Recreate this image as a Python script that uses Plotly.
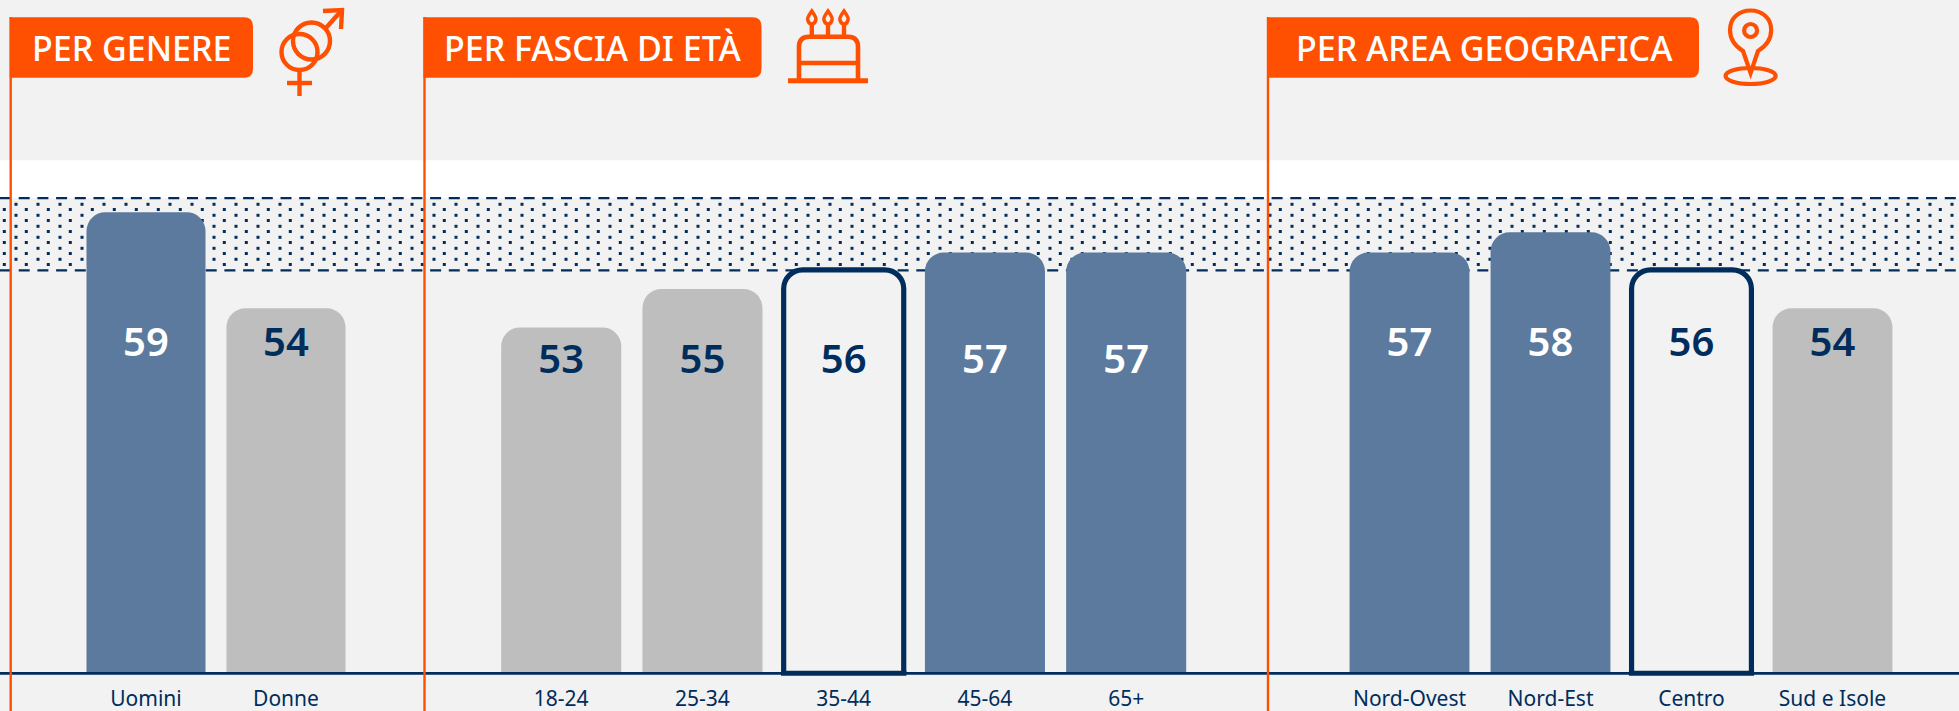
import plotly.graph_objects as go
import numpy as np

# ---- data ----
gender_cats = ["Uomini", "Donne"]
gender_vals = [59, 54]
age_cats = ["18-24", "25-34", "35-44", "45-64", "65+"]
age_vals = [53, 55, 56, 56.9, 56.9]
geo_cats = ["Nord-Ovest", "Nord-Est", "Centro", "Sud e Isole"]
geo_vals = [56.9, 57.95, 56, 54]
reference_value = 56
headers = ["PER GENERE", "PER FASCIA DI ETÀ", "PER AREA GEOGRAFICA"]

# ---- styles ----
BG = "#f2f2f2"
NAVY = "#002d5c"
BLUE = "#5b7a9e"
GRAY = "#bebebe"
ORANGE = "#ff4f00"
FONT = "Noto Sans"
W, H = 1959, 711
BASE = 35
BASE_PX = 673.3
YMAX = 70.05
BAND_TOP = 59.73
BAND_LOW = 55.97


def fill(v):
    return BLUE if v > reference_value else GRAY if v < reference_value else BG


def txt(v):
    return "white" if v > reference_value else NAVY


fig = go.Figure()

# dotted texture of the band, on a full-page pixel axis (drawn first = below bars)
col_a = np.arange(16, W, 22)
col_b = col_a + 10.3 - 22
row_a = 204.3 + 11 * np.arange(6)
row_b = 209.5 + 11 * np.arange(6)
dx = np.concatenate([np.repeat(col_a, 6), np.repeat(col_b, 6)])
dy = np.concatenate([np.tile(row_a, len(col_a)), np.tile(row_b, len(col_b))])
fig.add_trace(go.Scatter(x=dx, y=dy, mode="markers", xaxis="x", yaxis="y",
                         marker=dict(symbol="square", size=3, color=NAVY, line_width=0),
                         hoverinfo="skip", showlegend=False))

groups = [
    (gender_cats, gender_vals, "x2", [76 / W, 356 / W], 52.04),
    (age_cats, age_vals, "x3", [490.6 / W, 1196.8 / W], 51.15),
    (geo_cats, geo_vals, "x4", [1339 / W, 1903 / W], 52.04),
]
axes = {}
shapes = []
# white strip and dashed band limits
shapes.append(dict(type="rect", xref="paper", x0=0, x1=1, yref="y2", y0=BAND_TOP, y1=61.7,
                   fillcolor="white", line_width=0, layer="below"))
for yv in (BAND_TOP, BAND_LOW):
    shapes.append(dict(type="line", xref="paper", x0=0, x1=1, yref="y2", y0=yv, y1=yv, layer="below",
                       line=dict(color=NAVY, width=2.4, dash="11px,7.7px")))
# baseline
shapes.append(dict(type="line", xref="paper", x0=0, x1=1, yref="y", y0=BASE_PX, y1=BASE_PX,
                   line=dict(color=NAVY, width=2.8)))

for cats, vals, xa, dom, label_y in groups:
    fig.add_trace(go.Bar(
        x=cats, y=vals, xaxis=xa, yaxis="y2", width=0.85,
        marker=dict(color=[fill(v) for v in vals], cornerradius=19,
                    line=dict(color=[NAVY if v == reference_value else "rgba(0,0,0,0)" for v in vals],
                              width=[5.2 if v == reference_value else 0 for v in vals])),
        showlegend=False, hoverinfo="skip"))
    fig.add_trace(go.Scatter(
        x=cats, y=[label_y] * len(cats), text=[str(round(v)) for v in vals], mode="text",
        xaxis=xa, yaxis="y2", textposition="middle center",
        textfont=dict(family=FONT, size=40, weight=600, color=[txt(v) for v in vals]),
        showlegend=False, hoverinfo="skip"))
    axes[xa.replace("x", "xaxis")] = dict(
        domain=dom, anchor="y2", type="category", automargin=False,
        categoryorder="array", categoryarray=cats, range=[-0.5, len(cats) - 0.5],
        showgrid=False, zeroline=False, showline=False,
        ticks="outside", ticklen=7, tickcolor="rgba(0,0,0,0)",
        tickfont=dict(family=FONT, size=21, color=NAVY))
    # closing bottom edge of the outlined bar
    for i, v in enumerate(vals):
        if v == reference_value:
            shapes.append(dict(type="line", xref=xa, yref="y", x0=i - 0.444, x1=i + 0.444,
                               y0=BASE_PX, y1=BASE_PX,
                               line=dict(color=NAVY, width=5)))

# header flags + poles (pixel axis)
flags = [(9.7, 253), (423.5, 761.5), (1267, 1699)]
text_x = [131.5, 592, 1484.5]
anns = []
for (x0, x1), tx, label in zip(flags, text_x, headers):
    shapes.append(dict(type="line", xref="x", yref="y", x0=x0 + 1, x1=x0 + 1, y0=17, y1=H,
                       line=dict(color=ORANGE, width=2.4)))
    r = 9
    shapes.append(dict(type="path", xref="x", yref="y", fillcolor=ORANGE, line_width=0,
                       path=f"M{x0},17.3 L{x1-r},17.3 Q{x1},17.3 {x1},{17.3+r} L{x1},{77.7-r} "
                            f"Q{x1},77.7 {x1-r},77.7 L{x0},77.7 Z"))
    anns.append(dict(text=label, xref="x", yref="y", x=tx, y=48, showarrow=False,
                     xanchor="center", yanchor="middle",
                     font=dict(family=FONT, size=34, weight=500, color="white")))


def icon(path, w=4.4):
    shapes.append(dict(type="path", xref="x", yref="y", path=path,
                       line=dict(color=ORANGE, width=w), fillcolor="rgba(0,0,0,0)"))


def circle(cx, cy, rx, ry=None, w=4.4):
    ry = rx if ry is None else ry
    shapes.append(dict(type="circle", xref="x", yref="y", x0=cx - rx, x1=cx + rx, y0=cy - ry, y1=cy + ry,
                       line=dict(color=ORANGE, width=w), fillcolor="rgba(0,0,0,0)"))


# gender icon
circle(299.5, 52, 18)
circle(311.5, 41, 18.5)
icon("M325,29 L342,10")
icon("M323,11 L342,10 L341,29")
icon("M299.5,70 L299.5,96")
icon("M287,83 L312,83")
# cake icon
icon("M799,80 L799,47 Q799,36.7 809,36.7 L848,36.7 Q858,36.7 858,47 L858,80", w=4.6)
icon("M799,63 L858,63", w=4.6)
icon("M788,80.7 L868,80.7", w=5)
for cx in (811.8, 828, 844):
    icon(f"M{cx},36 L{cx},25", w=4.4)
    icon(f"M{cx},11 Q{cx+5},18 {cx+4},20 Q{cx+3},24 {cx},24 Q{cx-3},24 {cx-4},20 Q{cx-5},18 {cx},11 Z", w=3.6)
# pin icon
icon("M1750.6,73 L1743,51 C1735,46 1730,39 1730,30 C1730,18 1739,10.5 1750.6,10.5 "
     "C1762,10.5 1771.2,18 1771.2,30 C1771.2,39 1766,46 1758,51 Z", w=4.2)
circle(1750.6, 30.5, 6.5, w=4.2)
circle(1750.6, 76, 25, 8, w=4.2)

fig.update_layout(
    width=W, height=H, margin=dict(l=0, r=0, t=0, b=0, pad=0), autosize=False,
    paper_bgcolor=BG, plot_bgcolor="rgba(0,0,0,0)", barmode="overlay",
    font=dict(family=FONT), showlegend=False,
    xaxis=dict(domain=[0, 1], range=[0, W], visible=False, fixedrange=True, automargin=False),
    yaxis=dict(domain=[0, 1], range=[H, 0], visible=False, fixedrange=True, automargin=False),
    yaxis2=dict(domain=[38 / H, 1], range=[BASE, YMAX], visible=False, fixedrange=True, automargin=False,
                anchor="x2"),
    shapes=shapes, annotations=anns, **axes)

fig.write_html("out.html", config=dict(displayModeBar=False),
               post_script="document.body.style.margin='0';document.body.style.overflow='hidden';document.body.style.background='#f2f2f2';")
